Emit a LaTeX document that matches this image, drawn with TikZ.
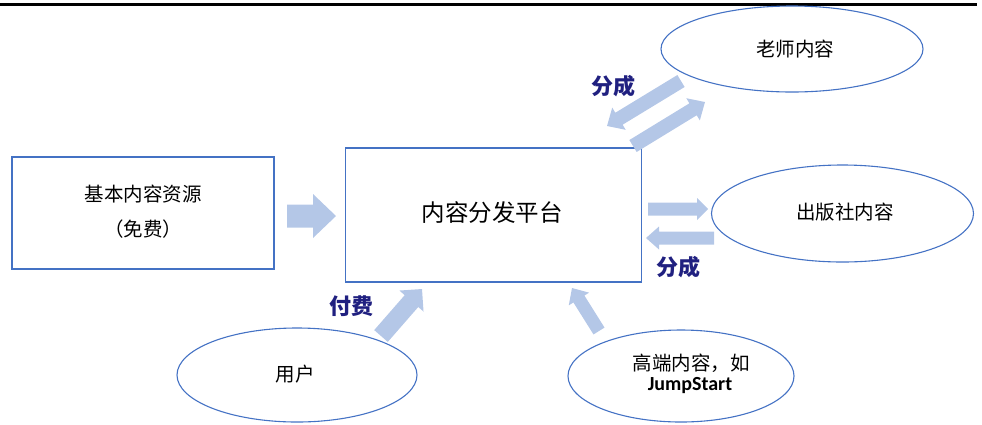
\documentclass[tikz,border=0pt]{standalone}
\usepackage{fontspec}
\usetikzlibrary{shapes.geometric}
\newfontfamily\cjk{Noto Sans CJK SC}
\newfontfamily\carl{Carlito}
\definecolor{edgeblue}{RGB}{68,114,196}
\definecolor{arrfillc}{RGB}{180,199,231}
\definecolor{navyc}{RGB}{32,32,128}
\tikzset{
  boxsty/.style={draw=edgeblue, line width=1.1pt, fill=white, inner sep=0pt},
  ellsty/.style={draw=edgeblue, line width=1.1pt, ellipse, inner sep=0pt},
  txt/.style={font=\cjk\fontsize{19.5}{24}\selectfont, align=center},
  bigtxt/.style={font=\cjk\fontsize{23.5}{26}\selectfont},
  lbl/.style={font=\cjk\bfseries\fontsize{22}{24}\selectfont, text=navyc},
  arrfill/.style={fill=arrfillc}
}
\newcommand{\fatarr}[5]{%
  \pgfpointanchor{#1}{center}\pgfgetlastxy{\fax}{\fay}%
  \pgfpointanchor{#2}{center}\pgfgetlastxy{\fbx}{\fby}%
  \pgfmathsetmacro{\fang}{atan2(\fby-\fay,\fbx-\fax)}%
  \pgfmathsetmacro{\flen}{veclen(\fbx-\fax,\fby-\fay)}%
  \pgfmathsetmacro{\fhs}{\flen-#5}%
  \begin{scope}[shift={(\fax,\fay)}, rotate=\fang]
    \fill[arrfill] (0pt,-#3pt) -- (\fhs pt,-#3pt) -- (\fhs pt,-#4pt) -- (\flen pt,0pt)
      -- (\fhs pt,#4pt) -- (\fhs pt,#3pt) -- (0pt,#3pt) -- cycle;
  \end{scope}}
\begin{document}
\begin{tikzpicture}[x=1pt,y=-1pt]
\useasboundingbox (0,0) rectangle (982,424);
\coordinate (tl) at (0,4);
\coordinate (tr) at (977,4);
\draw[line width=3pt] (tl) -- (tr);

\node[boxsty, minimum width=262pt, minimum height=112pt] (base) at (143,213) {};
\node[txt] at (143,194) {基本内容资源};
\node[txt] at (143,229) {（免费）};

\node[boxsty, minimum width=296pt, minimum height=134pt] (plat) at (493.5,215) {};
\node[bigtxt] at (492,213) {内容分发平台};

\node[ellsty, minimum width=262pt, minimum height=86pt] (teach) at (792,49) {};
\node[txt] at (795,49) {老师内容};

\node[ellsty, minimum width=262pt, minimum height=97pt] (pub) at (842.5,213.5) {};
\node[txt] at (845,212) {出版社内容};

\node[ellsty, minimum width=240pt, minimum height=94pt] (user) at (297,375) {};
\node[txt] at (295,374) {用户};

\node[ellsty, minimum width=226pt, minimum height=92pt] (high) at (681,376) {};
\node[txt] at (691,363) {高端内容，如};
\node[font=\carl\bfseries\fontsize{20}{22}\selectfont] at (690,386) {JumpStart};

% arrow end points
\coordinate (a1s) at (287,216); \coordinate (a1e) at (336,216);
\coordinate (a2s) at (648,209); \coordinate (a2e) at (708,209);
\coordinate (a3s) at (714,238); \coordinate (a3e) at (646,238);
\coordinate (a4s) at (681,81);  \coordinate (a4e) at (607,126);
\coordinate (a5s) at (633,146); \coordinate (a5e) at (705,102);
\coordinate (a6s) at (381,336); \coordinate (a6e) at (422,289);
\coordinate (a7s) at (599,331); \coordinate (a7e) at (572,288);

\fatarr{a1s}{a1e}{11.5}{22}{23}
\fatarr{a2s}{a2e}{6.5}{11}{11}
\fatarr{a3s}{a3e}{6.5}{11.5}{13}
\fatarr{a4s}{a4e}{7}{13}{14}
\fatarr{a5s}{a5e}{7}{13}{14}
\fatarr{a6s}{a6e}{9}{16}{16}
\fatarr{a7s}{a7e}{6.5}{12}{13}

\node[lbl] at (613,86) {分成};
\node[lbl] at (678,267) {分成};
\node[lbl] at (351,306) {付费};
\end{tikzpicture}
\end{document}
